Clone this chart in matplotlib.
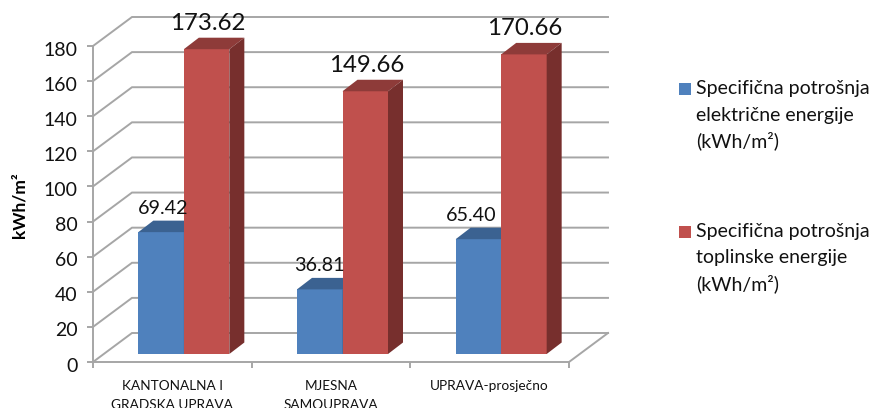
#!/usr/bin/env python3
import matplotlib
matplotlib.use('Agg')
import matplotlib.pyplot as plt
from matplotlib.patches import Polygon, Rectangle
from matplotlib.transforms import ScaledTranslation
import numpy as np

plt.rcParams['font.family'] = ['Lato', 'DejaVu Sans']

categories = ['KANTONALNA I\nGRADSKA UPRAVA', 'MJESNA\nSAMOUPRAVA', 'UPRAVA-prosječno']
struja = [69.42, 36.81, 65.40]
toplina = [173.62, 149.66, 170.66]
series_names = [['Specifična potrošnja', 'električne energije', '(kWh/m²)'],
                ['Specifična potrošnja', 'toplinske energije', '(kWh/m²)']]
yticks = np.arange(0, 181, 20)

W, H = 874, 408
grey = '#a6a6a6'
blue, blue_top = '#4f81bd', '#3b6291'
red, red_top, red_side = '#c0504d', '#8e3b39', '#772f2d'

fig = plt.figure(figsize=(W / 100, H / 100), dpi=100)
left, right, top, bottom = 93, 569, 46, 362
ax = fig.add_axes([left / W, 1 - bottom / H, (right - left) / W, (bottom - top) / H])
ax.set_xlim(0, 3)
ax.set_ylim(0, 180)
ax.patch.set_visible(False)

# pixels to data units, the whole 3d look is just offsets
px = 3 / (right - left)
py = 180 / (bottom - top)
wall_dx, wall_dy = 39 * px, 29 * py
bar_dx = 11.5 * px
side_dx, side_dy = 15 * px, 11.5 * py
bar_w = 45.5 * px

for s in ['top', 'right']:
    ax.spines[s].set_visible(False)
for s in ['left', 'bottom']:
    ax.spines[s].set_color(grey)
    ax.spines[s].set_linewidth(1.4)

# walls
for v in yticks:
    ax.plot([0, wall_dx, 3 + wall_dx], [v, v + wall_dy, v + wall_dy], color=grey, lw=1.4,
            clip_on=False, zorder=1, solid_joinstyle='miter')
ax.plot([3, 3 + wall_dx], [0, wall_dy], color=grey, lw=1.4, clip_on=False, zorder=1)

x = np.arange(3) + 0.5 + bar_dx


def bars(xs, vals, col, col_top, col_side, z):
    ax.bar(xs, vals, bar_w, bottom=0, color=col, clip_on=False, zorder=z)
    for xi, v in zip(xs, vals):
        l, r = xi - bar_w / 2, xi + bar_w / 2
        ax.add_patch(Polygon([(l, v), (r, v), (r + side_dx, v + side_dy), (l + side_dx, v + side_dy)],
                             color=col_top, lw=0, clip_on=False, zorder=z))
        ax.add_patch(Polygon([(r, 0), (r + side_dx, side_dy), (r + side_dx, v + side_dy), (r, v)],
                             color=col_side, lw=0, clip_on=False, zorder=z))


# bars sit a bit up the floor, so shift all of them with a transform
shift = ScaledTranslation(0, 8 / 100, fig.dpi_scale_trans)
bars(x - bar_w / 2, struja, blue, blue_top, blue_top, 3)
bars(x + bar_w / 2, toplina, red, red_top, red_side, 4)
for p in ax.patches:
    p.set_transform(ax.transData + shift)

blue_shift = [2, 0, -7]
for xi, v, d in zip(x - bar_w / 2, struja, blue_shift):
    ax.annotate('%.2f' % v, (xi, v), xytext=(d, 32), textcoords='offset pixels', ha='center',
                va='center', fontsize=14.2, color='#111111', zorder=6, annotation_clip=False)
for xi, v in zip(x + bar_w / 2, toplina):
    ax.annotate('%.2f' % v, (xi, v), xytext=(1, 34), textcoords='offset pixels', ha='center',
                va='center', fontsize=17.3, color='#111111', zorder=6, annotation_clip=False)

ax.set_yticks(yticks)
ax.tick_params(axis='y', length=4, width=1.4, color=grey, labelsize=14, pad=7, labelcolor='#111111')
down = ScaledTranslation(0, -2.5 / 100, fig.dpi_scale_trans)
for t in ax.get_yticklabels():
    t.set_transform(t.get_transform() + down)
ax.set_xticks([0, 1, 2, 3])
ax.set_xticklabels([])
ax.tick_params(axis='x', which='major', length=4, width=1.4, color=grey)
ax.set_xticks([0.5, 1.5, 2.5], minor=True)
ax.set_xticklabels(categories, minor=True, fontsize=9.8, color='#111111', linespacing=1.65)
ax.tick_params(axis='x', which='minor', length=0, pad=13)
ax.set_ylabel('kWh/m²', fontsize=12.5, fontweight='bold')
ax.yaxis.set_label_coords(28 / W, 1 - 205 / H, transform=fig.transFigure)

# legend, one text per line so the ² does not stretch the spacing
for lines, col, y0 in zip(series_names, [blue, red], [83, 226]):
    fig.add_artist(Rectangle((679 / W, 1 - (y0 + 12) / H), 12 / W, 12 / H, color=col, lw=0,
                             transform=fig.transFigure))
    for i, line in enumerate(lines):
        fig.text(696 / W, 1 - (y0 + 11 + i * 26.5) / H, line, fontsize=14, va='baseline', ha='left',
                 color='#111111')

plt.savefig('out.png', dpi=100)
